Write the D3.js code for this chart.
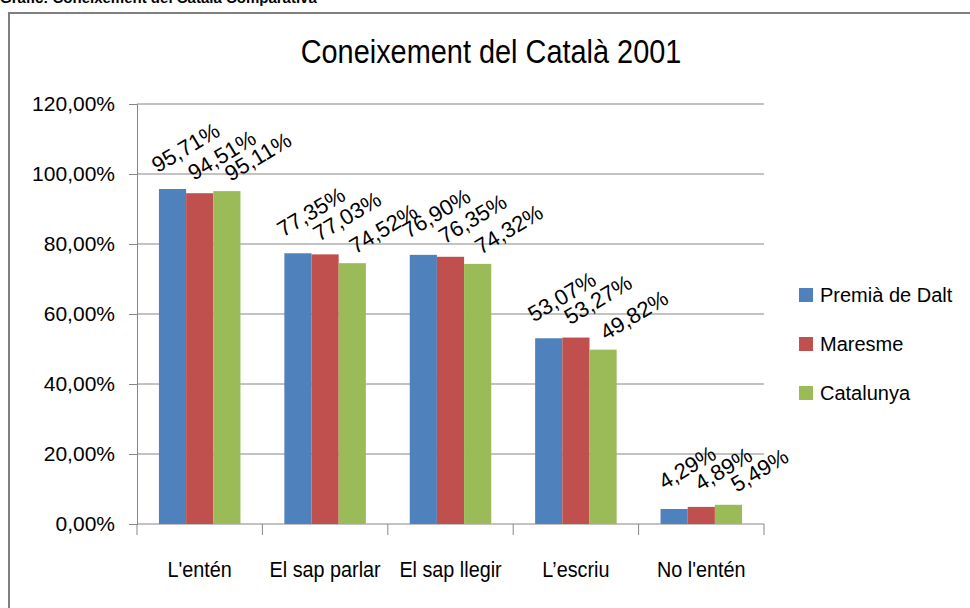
<!DOCTYPE html>
<html lang="ca">
<head>
<meta charset="UTF-8">
<title>Coneixement del Català 2001</title>
<script src="https://d3js.org/d3.v7.min.js"></script>
<style>
  body { margin: 0; background: #fff; }
  svg { display: block; font-family: "Liberation Sans", Arial, sans-serif; }
  .grid line { stroke: #868686; stroke-width: 1; }
  .axis path, .axis line { stroke: #868686; }
  .axis text { fill: #000; }
  .lbl { font-size: 22px; fill: #000; }
</style>
</head>
<body>
<div id="chart"></div>
<script>
// data
const categories = ["L'entén", "El sap parlar", "El sap llegir", "L\u2019escriu", "No l'entén"];
const seriesNames = ["Premià de Dalt", "Maresme", "Catalunya"];
const premiaDeDalt = [95.71, 77.35, 76.90, 53.07, 4.29];
const maresme = [94.51, 77.03, 76.35, 53.27, 4.89];
const catalunya = [95.11, 74.52, 74.32, 49.82, 5.49];
const yTicks = [0, 20, 40, 60, 80, 100, 120];
const colors = ["#4F81BD", "#C0504D", "#9BBB59"];

const seriesValues = [premiaDeDalt, maresme, catalunya];

const width = 970, height = 608;
const margin = { left: 137, right: 206, top: 104, bottom: 84 };

const loc = d3.formatLocale({ decimal: ",", thousands: ".", grouping: [3], currency: ["", "€"] });
const pct = v => loc.format(".2f")(v) + "%";

const svg = d3.select("#chart").append("svg")
    .attr("width", width)
    .attr("height", height);

// outer frame
svg.append("rect")
    .attr("x", 9).attr("y", 13)
    .attr("width", 975).attr("height", 610)
    .attr("fill", "#fff")
    .attr("stroke", "#7f7f7f")
    .attr("stroke-width", 2);

// caption above the frame (cut off at the top, as in the source)
svg.append("text")
    .attr("x", 0).attr("y", 3)
    .style("font-size", "15px")
    .style("font-weight", "bold")
    .text("Gràfic: Coneixement del Català Comparativa");

const x0 = d3.scaleBand()
    .domain(categories)
    .range([margin.left, width - margin.right])
    .paddingInner(0.35)
    .paddingOuter(0.175);

const x1 = d3.scaleBand()
    .domain(seriesNames)
    .range([0, x0.bandwidth()]);

const y = d3.scaleLinear()
    .domain([0, 120])
    .range([height - margin.bottom, margin.top]);

// gridlines
svg.append("g").attr("class", "grid")
    .selectAll("line")
    .data(yTicks.filter(d => d > 0))
    .join("line")
    .attr("x1", margin.left).attr("x2", width - margin.right)
    .attr("y1", d => y(d)).attr("y2", d => y(d));

// y axis
svg.append("g").attr("class", "axis")
    .attr("transform", `translate(${margin.left},0)`)
    .call(d3.axisLeft(y).tickValues(yTicks).tickFormat(pct).tickSize(8).tickPadding(14))
    .selectAll("text").style("font-size", "21px");

// x axis
const xAxis = svg.append("g").attr("class", "axis")
    .attr("transform", `translate(0,${y(0)})`)
    .call(d3.axisBottom(x0).tickSize(0).tickPadding(37));
xAxis.select(".domain").remove();
xAxis.selectAll("text")
    .style("font-size", "22px")
    .attr("transform", "scale(0.9,1)");
xAxis.append("line")
    .attr("x1", margin.left).attr("x2", width - margin.right)
    .attr("stroke", "#868686");
// category separators
const step = x0.step();
xAxis.selectAll(".sep")
    .data(d3.range(categories.length + 1))
    .join("line")
    .attr("class", "sep")
    .attr("x1", i => margin.left + i * step)
    .attr("x2", i => margin.left + i * step)
    .attr("y1", 0).attr("y2", 11)
    .attr("stroke", "#868686");

// bars
const groups = svg.append("g")
    .selectAll("g")
    .data(categories)
    .join("g")
    .attr("transform", d => `translate(${x0(d)},0)`);

groups.selectAll("rect")
    .data((c, ci) => seriesNames.map((s, si) => ({ s, si, v: seriesValues[si][ci] })))
    .join("rect")
    .attr("x", d => x1(d.s))
    .attr("width", x1.bandwidth())
    .attr("y", d => y(d.v))
    .attr("height", d => y(0) - y(d.v))
    .attr("fill", d => colors[d.si]);

// data labels, rotated
groups.selectAll("text.lbl")
    .data((c, ci) => seriesNames.map((s, si) => ({ s, si, v: seriesValues[si][ci] })))
    .join("text")
    .attr("class", "lbl")
    .attr("text-anchor", "middle")
    .attr("transform", d => {
        const cx = x1(d.s) + x1.bandwidth() / 2 + 17 + 9 * d.si;
        const cy = y(d.v) - 35 + 3.5 * d.si;
        return `translate(${cx},${cy}) rotate(-31)`;
    })
    .text(d => pct(d.v));

// title
svg.append("text")
    .attr("transform", "translate(491,63) scale(0.85,1)")
    .attr("text-anchor", "middle")
    .style("font-size", "34px")
    .text("Coneixement del Català 2001");

// legend
const legend = svg.append("g")
    .selectAll("g")
    .data(seriesNames)
    .join("g")
    .attr("transform", (d, i) => `translate(799,${288 + i * 49})`);
legend.append("rect")
    .attr("width", 14).attr("height", 14)
    .attr("fill", (d, i) => colors[i]);
legend.append("text")
    .attr("x", 21).attr("y", 14)
    .style("font-size", "20px")
    .text(d => d);
</script>
</body>
</html>
